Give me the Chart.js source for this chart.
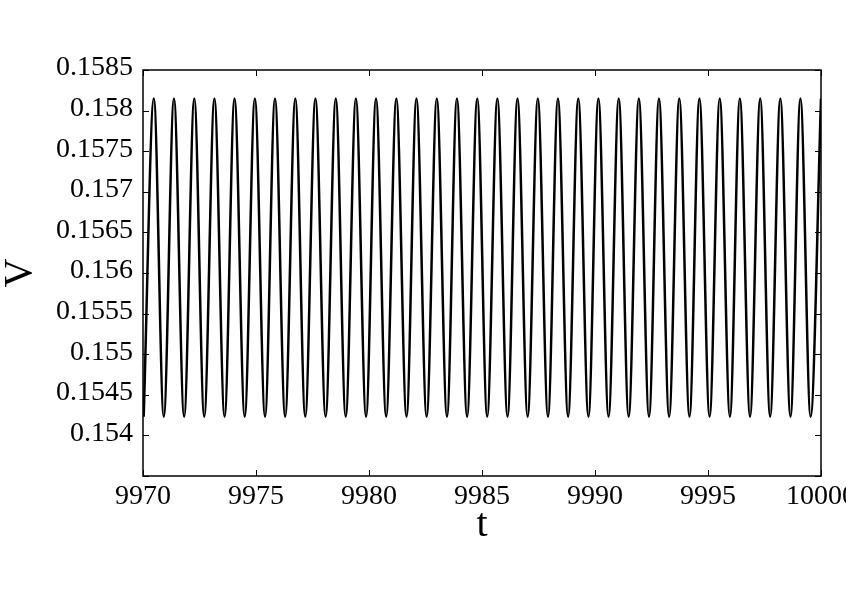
<!DOCTYPE html>
<html>
<head>
<meta charset="utf-8">
<script src="https://cdn.jsdelivr.net/npm/chart.js"></script>
<style>
  html, body { margin: 0; padding: 0; background: #fff; }
  #wrap { width: 846px; height: 594px; }
</style>
</head>
<body>
<div id="wrap"><canvas id="chart" width="846" height="594"></canvas></div>
<script>
// times of the minima and maxima of V
const troughTimes = [
    9970.03, 9970.92, 9971.82, 9972.71, 9973.61, 9974.50, 9975.40, 9976.29, 9977.18,
    9978.08, 9978.97, 9979.87, 9980.76, 9981.66, 9982.55, 9983.45, 9984.34, 9985.23,
    9986.13, 9987.02, 9987.92, 9988.81, 9989.71, 9990.60, 9991.49, 9992.39, 9993.28,
    9994.18, 9995.07, 9995.97, 9996.86, 9997.75, 9998.65, 9999.54
];
const troughValues = [
    0.15423, 0.15423, 0.15423, 0.15423, 0.15423, 0.15423, 0.15423, 0.15423, 0.15423,
    0.15423, 0.15423, 0.15423, 0.15423, 0.15423, 0.15423, 0.15423, 0.15423, 0.15423,
    0.15423, 0.15423, 0.15423, 0.15423, 0.15423, 0.15423, 0.15423, 0.15423, 0.15423,
    0.15423, 0.15423, 0.15423, 0.15423, 0.15423, 0.15423, 0.15423
];
const peakTimes = [
    9970.48, 9971.37, 9972.27, 9973.16, 9974.05, 9974.95, 9975.84, 9976.74, 9977.63,
    9978.53, 9979.42, 9980.31, 9981.21, 9982.10, 9983.00, 9983.89, 9984.79, 9985.68,
    9986.57, 9987.47, 9988.36, 9989.26, 9990.15, 9991.05, 9991.94, 9992.83, 9993.73,
    9994.62, 9995.52, 9996.41, 9997.31, 9998.20, 9999.09, 10000.00
];
const peakValues = [
    0.15815, 0.15815, 0.15815, 0.15815, 0.15815, 0.15815, 0.15815, 0.15815, 0.15815,
    0.15815, 0.15815, 0.15815, 0.15815, 0.15815, 0.15815, 0.15815, 0.15815, 0.15815,
    0.15815, 0.15815, 0.15815, 0.15815, 0.15815, 0.15815, 0.15815, 0.15815, 0.15815,
    0.15815, 0.15815, 0.15815, 0.15815, 0.15815, 0.15815, 0.15815
];

const xMin = 9970, xMax = 10000, xStep = 5;
const yMin = 0.1535, yMax = 0.1585, yStep = 0.0005;

const points = [];
troughTimes.forEach((t, i) => {
    points.push({ x: t, y: troughValues[i] });
    points.push({ x: peakTimes[i], y: peakValues[i] });
});

const serif = 'Liberation Serif, Times New Roman, serif';

// box round the plot with ticks pointing inwards, like the original
const frame = {
    id: 'frame',
    afterDatasetsDraw(chart) {
        const { ctx, chartArea: a, scales: { x, y } } = chart;
        const len = 6;
        ctx.save();
        ctx.strokeStyle = '#000';
        ctx.lineWidth = 1.5;
        ctx.strokeRect(a.left, a.top, a.right - a.left, a.bottom - a.top);
        ctx.beginPath();
        x.ticks.forEach(t => {
            const px = Math.round(x.getPixelForValue(t.value)) + 0.5;
            ctx.moveTo(px, a.bottom); ctx.lineTo(px, a.bottom - len);
            ctx.moveTo(px, a.top); ctx.lineTo(px, a.top + len);
        });
        y.ticks.forEach(t => {
            const py = Math.round(y.getPixelForValue(t.value)) + 0.5;
            ctx.moveTo(a.left, py); ctx.lineTo(a.left + len, py);
            ctx.moveTo(a.right, py); ctx.lineTo(a.right - len, py);
        });
        ctx.lineWidth = 1;
        ctx.stroke();
        ctx.restore();
    }
};

new Chart(document.getElementById('chart').getContext('2d'), {
    type: 'line',
    data: {
        datasets: [{
            data: points,
            borderColor: '#000',
            borderWidth: 2.5,
            pointRadius: 0,
            fill: false,
            cubicInterpolationMode: 'monotone'
        }]
    },
    options: {
        responsive: false,
        animation: false,
        layout: { autoPadding: false, padding: { left: 0, top: 70, right: 25, bottom: 0 } },
        plugins: { legend: { display: false }, tooltip: { enabled: false } },
        scales: {
            x: {
                type: 'linear',
                min: xMin,
                max: xMax,
                afterFit: s => { s.height = 118; s.paddingLeft = 0; s.paddingRight = 0; },
                grid: { display: false, drawTicks: false },
                border: { display: false },
                ticks: {
                    stepSize: xStep,
                    padding: 4,
                    color: '#000',
                    maxRotation: 0,
                    font: { family: serif, size: 28 },
                    callback: v => String(v)
                },
                title: {
                    display: true,
                    text: 't',
                    color: '#000',
                    font: { family: serif, size: 40, lineHeight: 1 },
                    padding: { top: 0, bottom: 49 }
                }
            },
            y: {
                min: yMin,
                max: yMax,
                afterFit: s => { s.width = 143; s.paddingTop = 0; s.paddingBottom = 0; },
                grid: { display: false, drawTicks: false },
                border: { display: false },
                ticks: {
                    stepSize: yStep,
                    padding: 10,
                    labelOffset: -2,
                    color: '#000',
                    font: { family: serif, size: 28 },
                    callback: v => (v <= yMin + 1e-7 ? '' : String(+v.toFixed(4)))
                },
                title: {
                    display: true,
                    text: 'V',
                    color: '#000',
                    font: { family: serif, size: 40, lineHeight: 1 },
                    padding: 0
                }
            }
        }
    },
    plugins: [frame]
});
</script>
</body>
</html>
